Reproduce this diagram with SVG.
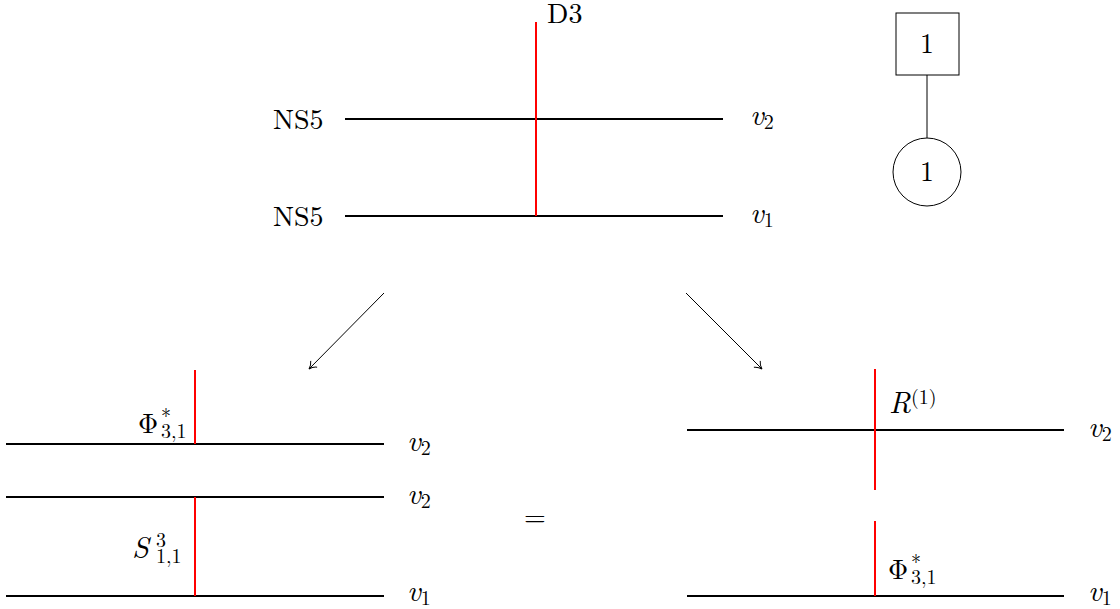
<svg xmlns="http://www.w3.org/2000/svg" width="1120" height="609" viewBox="0 0 1120 609" font-family="Latin Modern Roman">
<defs>
<style>
.brane{stroke:#000;stroke-width:2.2;fill:none}
.d3{stroke:#ff0000;stroke-width:2;fill:none}
.thin{stroke:#000;stroke-width:1;fill:none}
.t{font-size:28px;fill:#000}
.it{font-style:italic}
.v{font-style:italic;font-size:30px}
.sm{font-size:20px}
</style>
<marker id="to" viewBox="-9 -6 11 12" markerWidth="11" markerHeight="12" refX="0" refY="0" orient="auto" markerUnits="userSpaceOnUse">
<path d="M-7,-4.5 C-5,-2 -2,-0.5 0,0 C-2,0.5 -5,2 -7,4.5" fill="none" stroke="#000" stroke-width="1"/>
</marker>
</defs>
<rect width="1120" height="609" fill="#fff"/>

<g id="top-config">
<line class="brane" x1="345" y1="119" x2="723" y2="119"/>
<line class="brane" x1="345" y1="216" x2="723" y2="216"/>
<line class="d3" x1="536" y1="22" x2="536" y2="216"/>
<text class="t" font-family="Latin Modern Roman" x="547" y="23">D3</text>
<text class="t" font-family="Latin Modern Roman" x="273" y="129">NS5</text>
<text class="t" font-family="Latin Modern Roman" x="273" y="226">NS5</text>
<text class="t" font-family="Latin Modern Roman" x="750" y="125"><tspan class="v">v</tspan><tspan class="sm" dy="4">2</tspan></text>
<text class="t" font-family="Latin Modern Roman" x="750" y="223"><tspan class="v">v</tspan><tspan class="sm" dy="4">1</tspan></text>
</g>

<g id="quiver-flavor">
<rect class="thin" x="896" y="13" width="63" height="62"/>
<text class="t" font-family="Latin Modern Roman" x="927" y="53" text-anchor="middle">1</text>
</g>
<g id="quiver-gauge">
<circle class="thin" cx="927" cy="172" r="34"/>
<text class="t" font-family="Latin Modern Roman" x="927" y="181" text-anchor="middle">1</text>
</g>

<g id="bottom-left">
<line class="brane" x1="6" y1="444" x2="384" y2="444"/>
<line class="brane" x1="6" y1="497" x2="384" y2="497"/>
<line class="brane" x1="6" y1="596" x2="384" y2="596"/>
<line class="d3" x1="195" y1="370" x2="195" y2="444"/>
<line class="d3" x1="195" y1="497" x2="195" y2="596"/>
<text class="t" font-family="Latin Modern Roman" x="138" y="433">Φ</text>
<text class="t sm" font-family="Latin Modern Roman" x="161" y="423">*</text>
<text class="t sm" font-family="Latin Modern Roman" x="161" y="438">3,1</text>
<text class="t" font-family="Latin Modern Roman" x="132" y="558"><tspan class="v">S</tspan></text>
<text class="t sm" font-family="Latin Modern Roman" x="156" y="547">3</text>
<text class="t sm" font-family="Latin Modern Roman" x="156" y="563">1,1</text>
<text class="t" font-family="Latin Modern Roman" x="407" y="451"><tspan class="v">v</tspan><tspan class="sm" dy="4">2</tspan></text>
<text class="t" font-family="Latin Modern Roman" x="407" y="504"><tspan class="v">v</tspan><tspan class="sm" dy="4">2</tspan></text>
<text class="t" font-family="Latin Modern Roman" x="407" y="601"><tspan class="v">v</tspan><tspan class="sm" dy="4">1</tspan></text>
</g>

<g id="equals">
<text class="t" font-family="Latin Modern Roman" x="535" y="526" text-anchor="middle">=</text>
</g>

<g id="bottom-right">
<line class="brane" x1="687" y1="430" x2="1064" y2="430"/>
<line class="brane" x1="687" y1="596" x2="1064" y2="596"/>
<line class="d3" x1="875" y1="369" x2="875" y2="490"/>
<line class="d3" x1="875" y1="521" x2="875" y2="596"/>
<text class="t" font-family="Latin Modern Roman" x="889" y="413"><tspan class="v">R</tspan></text>
<text class="t sm" font-family="Latin Modern Roman" x="911" y="404">(1)</text>
<text class="t" font-family="Latin Modern Roman" x="888" y="579">Φ</text>
<text class="t sm" font-family="Latin Modern Roman" x="911" y="569">*</text>
<text class="t sm" font-family="Latin Modern Roman" x="911" y="584">3,1</text>
<text class="t" font-family="Latin Modern Roman" x="1088" y="437"><tspan class="v">v</tspan><tspan class="sm" dy="4">2</tspan></text>
<text class="t" font-family="Latin Modern Roman" x="1088" y="601"><tspan class="v">v</tspan><tspan class="sm" dy="4">1</tspan></text>
</g>

<g id="connectors">
<line class="thin" x1="927" y1="75" x2="927" y2="138"/>
<line class="thin" x1="384" y1="293" x2="309" y2="369" marker-end="url(#to)"/>
<line class="thin" x1="686" y1="293" x2="762" y2="369" marker-end="url(#to)"/>
</g>
</svg>
